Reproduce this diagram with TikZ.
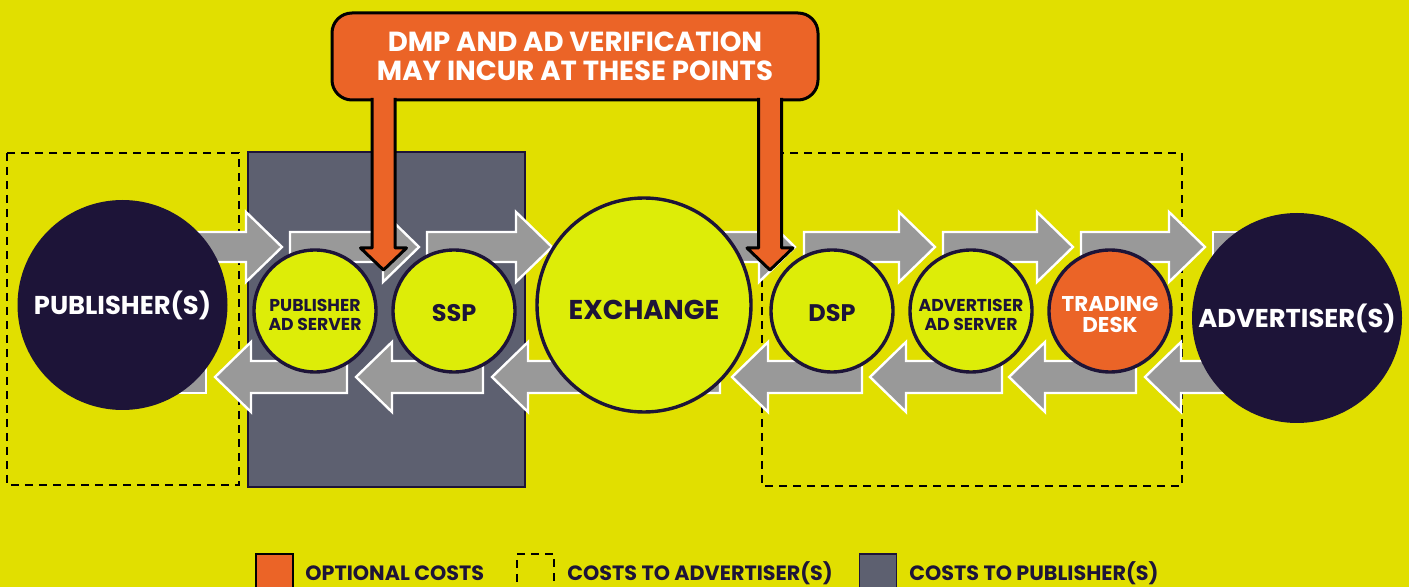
\documentclass[tikz,border=0pt]{standalone}
\usepackage{fontspec}
\setmainfont{Poppins}
\usepackage{tikz}
\usetikzlibrary{positioning}

\definecolor{bgyellow}{RGB}{225,223,0}
\definecolor{limefill}{RGB}{221,237,8}
\definecolor{navy}{RGB}{29,20,56}
\definecolor{optorange}{RGB}{235,100,39}
\definecolor{pubgray}{RGB}{93,96,112}
\definecolor{flowgray}{RGB}{153,153,153}

\begin{document}
\begin{tikzpicture}[x=0.5pt, y=-0.5pt,
hubnode/.style={circle, fill=navy, text=white, minimum size=105pt, inner sep=0pt, outer sep=0pt, font=\bfseries\fontsize{12.9}{14}\selectfont},
stagenode/.style={circle, draw=navy, fill=limefill, text=navy, line width=1.7pt, minimum size=61pt, inner sep=0pt, outer sep=0pt, align=center},
lower/.style={execute at begin node={\rule{0pt}{#1}}},
smalltext/.style={font=\bfseries\fontsize{8.6}{9.5}\selectfont},
midtext/.style={font=\bfseries\fontsize{12}{13}\selectfont},
flow/.style={fill=flowgray, draw=white, line width=1.2pt},
pointer/.style={fill=optorange, draw=black, line width=1.5pt, line join=round},
costline/.style={draw=black, line width=1pt, dash pattern=on 4pt off 3pt},
calloutnode/.style={rectangle, rounded corners=10pt, fill=optorange, draw=black, line width=1.5pt, text=white, minimum width=243pt, minimum height=43.5pt, align=center, font=\bfseries\fontsize{13.8}{14.5}\selectfont},
keybox/.style={rectangle, minimum width=18.5pt, minimum height=23pt, line width=0.8pt},
keytext/.style={anchor=base west, inner sep=0pt, text=navy, font=\bfseries\fontsize{10.35}{12}\selectfont},
]
%Background
\fill[bgyellow] (0,0) rectangle (1409,587);
\useasboundingbox (0,0) rectangle (1409,587);

%Cost areas
\draw[costline] (7,153) rectangle (239,485);
\draw[costline] (762,153) rectangle (1182,486);
\draw[navy, line width=0.6pt, fill=pubgray] (248,152) rectangle (525,487);

%Flows
\draw[flow] (1213,232) rectangle (1300,262);
\draw[flow] (150,361) rectangle (206,393);
\foreach \s/\t in {150/282, 290/419, 427/552, 566/795, 804/935, 943/1073, 1081/1205}
  \draw[flow] (\s,232) -- ({\t-36},232) -- ({\t-36},212) -- (\t,247) -- ({\t-36},282) -- ({\t-36},262) -- (\s,262) -- cycle;
\foreach \t/\s in {215/347, 356/483, 492/720, 732/862, 870/1002, 1009/1136, 1145/1290}
  \draw[flow] (\s,361) -- ({\t+36},361) -- ({\t+36},342) -- (\t,377) -- ({\t+36},412) -- ({\t+36},393) -- (\s,393) -- cycle;

%Nodes
\node[hubnode, lower=0.95em]   (pub)  at (122.5,305)                     {PUBLISHER(S)};
\node[stagenode, smalltext, lower=19.5pt]
                               (pas)  [right=13.25pt of pub, yshift=-3pt] {PUBLISHER\\AD SERVER};
\node[stagenode, midtext, lower=0.9em]
                               (ssp)  [right=8.5pt of pas]               {SSP};
\node[stagenode, minimum size=107pt, font=\bfseries\fontsize{13.6}{15}\selectfont, lower=1.05em]
                               (exc)  [right=11pt of ssp, yshift=3pt]    {EXCHANGE};
\node[stagenode, midtext, lower=0.9em]
                               (dsp)  [right=10pt of exc, yshift=-3pt]   {DSP};
\node[stagenode, smalltext, lower=19.5pt]
                               (ads)  [right=8.5pt of dsp]               {ADVERTISER\\AD SERVER};
\node[stagenode, fill=optorange, text=white, font=\bfseries\fontsize{10.7}{10.5}\selectfont, lower=22pt]
                               (desk) [right=8.5pt of ads]               {TRADING\\DESK};
\node[hubnode]                 (adv)  [right=10.5pt of desk, yshift=-3.5pt] {ADVERTISER(S)};

%Callout
\node[calloutnode] (note) at (575,56.5) {DMP AND AD VERIFICATION\\MAY INCUR AT THESE POINTS};
\foreach \c in {383.5, 770}
  \draw[pointer] ({\c-11.5},98) -- ({\c-11.5},248) -- ({\c-23},248) -- (\c,270) -- ({\c+23},248) -- ({\c+11.5},248) -- ({\c+11.5},98);

%Legend
\node[keybox, fill=optorange, draw=black] (keyopt) at (274.5,577) {};
\node[keytext] (txtopt) at (305,581) {OPTIONAL COSTS};
\node[keybox, costline] (keyadv) at (535,577) {};
\node[keytext] (txtadv) at (567,581) {COSTS TO ADVERTISER(S)};
\node[keybox, fill=pubgray, draw=navy] (keypub) at (878,577) {};
\node[keytext] (txtpub) at (909,581) {COSTS TO PUBLISHER(S)};
\end{tikzpicture}
\end{document}
